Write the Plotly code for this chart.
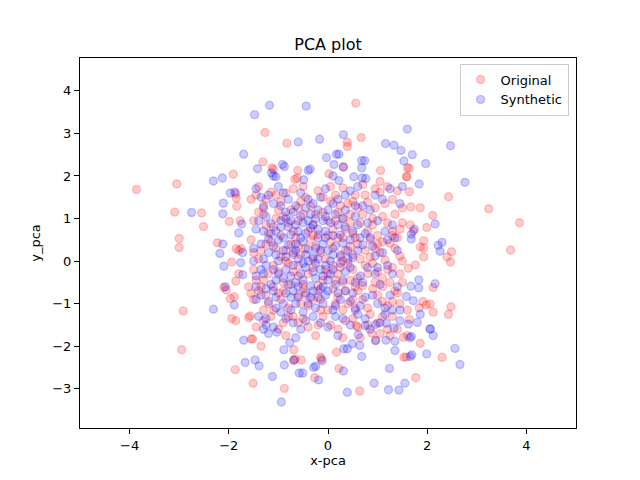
import plotly.graph_objects as go

# ---- data ----
orig_pts = [
    # outer left
    (-3.86,1.68),(-3.05,1.81),(-3.09,1.15),(-2.55,1.13),(-2.51,0.81),(-3.0,0.53),(-3.0,0.32),(-1.91,2.04),
    (-2.92,-1.17),(-2.95,-2.08),(-2.23,0.43),(-1.94,-0.02),(-2.1,-0.62),(-2.05,-0.68),(-1.97,-0.88),(-1.89,-0.84),
    (-1.94,-1.35),(-1.86,-1.4),(-1.55,-1.83),(-1.99,0.93),(-1.84,1.29),(-1.85,1.48),(-1.86,1.58),(-1.77,0.95),
    (-1.85,0.29),(-1.8,0.25),(-1.75,0.29),(-1.8,-0.3),(-1.86,-0.47),(-1.6,-0.6),(-1.55,-0.76),(-1.5,-0.9),(-1.6,-1.33),
    # outer right
    (3.86,0.9),(3.68,0.26),(3.24,1.23),(2.43,1.51),(1.64,2.18),(1.59,1.98),(1.64,1.63),(1.67,1.27),(1.86,1.25),
    (2.11,1.07),(1.99,0.79),(1.66,0.85),(1.72,0.7),(1.93,0.48),(1.86,0.33),(1.93,0.31),(2.49,0.22),(2.4,0.1),
    (2.47,-0.02),(1.93,0.1),(1.76,-0.09),(1.62,-0.17),(2.12,-0.62),(1.6,-1.15),(1.91,-0.95),(1.98,-1.03),(2.06,-1.01),
    (2.48,-1.07),(2.43,-1.25),(2.12,-1.2),(1.84,-1.1),(1.64,-1.37),(1.6,-1.75),(1.86,-1.93),(2.3,-2.26),(1.58,-2.25),
    # bottom
    (-1.57,-1.29),(-1.52,-1.83),(-1.35,-2.0),(-1.87,-2.55),(-1.51,-2.87),(-0.88,-2.99),(-0.69,-2.33),(-0.66,-2.3),
    (-0.54,-2.32),(-0.27,-2.74),(-0.15,-2.26),(-0.13,-2.3),(0.22,-2.52),(0.64,-3.05),(1.77,-2.74),(0.17,-2.14),
    (1.2,-1.6),(1.53,-2.26),(1.52,-1.79),(0.88,-1.69),(0.57,-1.52),(-0.69,-2.08),(0.96,-1.86),
    # top
    (0.56,3.71),(-1.27,3.02),(-0.83,2.77),(0.39,2.79),(0.39,2.69),(0.67,2.9),(1.6,2.19),(1.58,1.98),(1.06,2.13),
    (1.05,1.87),(-1.31,2.33),(-1.13,2.19),(-1.1,2.15),(-0.61,2.13),(-0.67,1.92),(-0.62,1.95),(0.02,2.05),(0.31,2.21),
    # centre
    (-1.4,1.75),(-1.15,1.62),(-0.95,1.4),(-0.7,1.7),(-0.45,1.5),(-0.2,1.65),(0.05,1.4),(0.3,1.72),(0.55,1.55),
    (0.8,1.38),(1.05,1.62),(1.3,1.45),(1.5,1.25),(-1.3,1.3),(0.15,1.55),(0.7,1.8),(-0.6,1.25),(1.2,1.75),(0.95,1.25),(-1.55,1.45),
    (-1.5,0.95),(-1.3,1.1),(-1.1,0.8),(-0.9,1.05),(-0.7,0.7),(-0.5,1.1),(-0.3,0.85),(-0.1,1.15),(0.1,0.75),(0.3,1.0),
    (0.5,0.65),(0.7,1.1),(0.9,0.85),(1.1,1.05),(1.3,0.7),(1.5,0.9),(-1.2,0.65),(0.45,0.9),(1.0,0.6),(-0.8,0.9),(0.2,1.15),(1.35,1.1),(-0.2,0.62),
    (-1.55,0.5),(-1.35,0.25),(-1.15,0.45),(-0.95,0.1),(-0.75,0.4),(-0.55,0.15),(-0.35,0.5),(-0.15,0.2),(0.05,0.45),(0.25,0.1),
    (0.45,0.35),(0.65,0.05),(0.85,0.5),(1.05,0.2),(1.25,0.42),(1.45,0.12),(-1.05,0.3),(0.55,0.55),(-0.45,0.3),(1.15,0.02),(0.35,0.25),(-0.65,0.55),(0.95,0.3),
    (-1.5,-0.2),(-1.3,-0.45),(-1.1,-0.1),(-0.9,-0.5),(-0.7,-0.25),(-0.5,-0.55),(-0.3,-0.15),(-0.1,-0.45),(0.1,-0.1),(0.3,-0.5),
    (0.5,-0.2),(0.7,-0.58),(0.9,-0.05),(1.1,-0.4),(1.3,-0.15),(1.5,-0.5),(-0.8,-0.05),(0.2,-0.3),(0.6,-0.4),(-0.2,-0.58),(1.0,-0.25),(-1.2,-0.3),(0.4,-0.05),
    (-1.4,-0.7),(-1.2,-1.0),(-1.0,-0.75),(-0.8,-1.1),(-0.6,-0.8),(-0.4,-1.05),(-0.2,-0.7),(0.0,-1.15),(0.2,-0.85),(0.4,-1.0),
    (0.6,-0.7),(0.8,-1.1),(1.0,-0.8),(1.2,-1.05),(1.4,-0.75),(-0.5,-0.65),(0.3,-1.15),(0.9,-0.65),(-1.1,-1.15),(1.3,-0.95),(0.1,-0.65),
    (-1.3,-1.4),(-1.0,-1.6),(-0.7,-1.3),(-0.4,-1.55),(-0.1,-1.3),(0.2,-1.6),(0.5,-1.35),(0.8,-1.5),(1.1,-1.3),(1.4,-1.6),
    (-0.25,-1.75),(0.65,-1.8),(1.25,-1.75),(-0.85,-1.75),
    (-1.45,1.55),(-1.0,1.2),(-0.35,1.3),(0.4,1.35),(1.15,1.35),(-1.25,0.85),(-0.6,0.95),(0.15,0.95),(0.8,0.7),(1.4,0.55),
    (-1.4,0.05),(-0.85,0.25),(-0.25,0.35),(0.3,0.55),(0.75,0.25),(1.35,0.3),(-1.35,-0.6),(-0.6,-0.35),(0.0,-0.3),(0.8,-0.3),
    (1.45,-0.3),(-0.95,-0.9),(-0.3,-0.9),(0.5,-0.9),(1.1,-0.6),(-0.6,-1.45),(0.35,-1.4),(1.0,-1.45),(0.05,-1.5),(-1.15,-1.3),
    (-1.25,1.45),(-0.85,1.6),(-0.5,1.75),(-0.1,1.5),(0.25,1.3),(0.6,1.25),(0.95,1.7),(1.4,1.65),
    (-1.4,1.15),(-1.05,1.0),(-0.75,1.2),(-0.4,0.7),(0.0,0.95),(0.35,0.75),(0.65,0.9),(1.2,0.9),(1.45,0.75),
    (-1.25,0.4),(-0.95,0.6),(-0.6,0.35),(-0.3,0.05),(0.1,0.3),(0.2,0.55),(0.5,0.15),(0.85,0.1),(1.1,0.45),(1.3,0.6),
    (-1.45,-0.45),(-1.0,-0.25),(-0.75,-0.55),(-0.4,-0.3),(-0.05,-0.2),(0.25,-0.15),(0.45,-0.45),(0.75,-0.1),(0.95,-0.5),(1.25,-0.5),
    (-1.25,-0.8),(-0.9,-0.7),(-0.55,-1.0),(-0.15,-0.9),(0.15,-1.0),(0.55,-0.6),(0.7,-0.9),(1.1,-0.95),(1.45,-1.0),
    (-1.45,-1.55),(-0.9,-1.45),(-0.5,-1.35),(-0.2,-1.5),(0.3,-1.8),(0.6,-1.55),(1.05,-1.7),(1.3,-1.3),
    (-0.3,0.6),(0.6,0.4),(-0.6,-0.1),(0.35,-0.7),(-0.85,0.0),(0.0,0.6),(0.45,1.1),(-0.15,-1.15),(0.9,1.0),(-1.1,-0.6),
    (-0.25,1.1),(0.75,1.55),(-1.05,1.55),(0.15,-0.45),(-0.45,-0.8),(1.0,0.4),(-0.7,0.15),(0.3,0.0),(-1.5,0.2),(1.5,0.0),
    (-0.05,0.05),(0.55,-1.1),(-0.8,-1.3),(0.85,-1.25),(-1.3,-1.15),(1.2,-0.2),(0.05,1.75),(-0.55,1.4),(0.5,1.4),(1.35,-0.7),
]

synth_pts = [
    # outer left
    (-2.75,1.14),(-2.31,1.88),(-2.31,-1.13),(-2.12,0.40),(-2.18,0.18),(-2.1,-0.12),(-1.89,-1.03),(-1.70,-1.86),
    (-2.11,1.36),(-2.12,1.11),(-1.97,1.6),(-1.88,1.62),(-1.8,0.66),(-1.74,0.87),(-1.76,-0.04),(-1.72,-0.32),(-2.07,-0.6),(-1.72,0.2),
    (-2.13,1.95),
    # outer right
    (2.76,1.85),(1.84,1.81),(2.16,0.87),(1.74,0.75),(1.68,0.63),(1.68,0.52),(2.22,0.37),(2.3,0.44),(2.26,0.23),
    (1.83,-0.44),(1.83,-0.63),(2.16,-0.53),(1.67,-0.59),(1.58,-0.83),(1.72,-0.93),(1.86,-1.25),(1.8,-1.44),(1.62,-1.48),
    (2.06,-1.59),(2.12,-1.75),(1.68,-1.77),(2.56,-2.05),(1.99,-2.18),(1.69,-2.2),(2.47,2.71),(2.66,-2.43),(1.7,2.5),(1.97,2.29),
    # bottom
    (-1.67,-2.38),(-1.47,-2.32),(-1.39,-2.46),(-1.12,-2.71),(-0.94,-3.31),(-0.88,-2.44),(-0.69,-2.33),(-0.58,-2.63),
    (-0.51,-2.63),(-0.29,-2.5),(-0.25,-2.47),(-0.19,-2.79),(-0.12,-2.34),(0.31,-2.58),(0.39,-3.08),(0.93,-2.87),
    (1.22,-3.02),(1.43,-3.03),(1.55,-2.87),(1.24,-2.52),(0.68,-2.24),(0.96,-1.49),(0.96,-1.87),(1.17,-1.86),(1.35,-1.88),
    (1.35,-2.1),(1.66,-2.24),(1.65,-1.8),(2.06,-1.6),(1.33,-1.57),(1.18,-1.46),(0.75,-1.52),(0.61,-1.73),(0.64,-1.98),
    (0.49,-1.94),(0.32,-2.06),(0.39,-2.06),(-0.89,-2.08),(-0.77,-1.92),(-1.03,-1.67),(-1.2,-1.7),(-1.3,-1.6),(-1.25,-1.5),
    # top
    (-1.48,3.44),(-1.18,3.66),(-0.44,3.64),(1.6,3.1),(-0.6,2.8),(-0.17,2.86),(0.31,2.97),(1.16,2.76),(1.33,2.72),
    (1.47,2.6),(1.53,2.35),(-1.7,2.51),(-1.42,2.17),(-1.14,2.07),(-1.1,2.0),(-1.05,1.98),(-0.92,2.27),(-0.88,2.22),
    (-0.4,2.13),(-0.36,2.16),(-0.49,1.91),(-0.03,2.43),(0.17,2.51),(0.22,2.51),(0.12,2.27),(0.31,2.21),(0.1,2.0),
    (0.22,1.89),(0.68,2.36),(0.74,2.36),(0.68,2.19),(0.69,1.95),(0.76,1.94),(0.52,1.98),(1.5,1.75),
    # centre
    (-1.45,1.7),(-1.2,1.55),(-1.0,1.75),(-0.8,1.45),(-0.55,1.6),(-0.3,1.35),(-0.05,1.7),(0.2,1.45),(0.45,1.65),
    (0.7,1.3),(0.95,1.55),(1.25,1.7),(-1.3,1.25),(-0.15,1.5),(0.6,1.75),(-0.65,1.3),(1.45,1.35),
    (-1.45,0.75),(-1.25,1.05),(-1.05,0.7),(-0.85,1.15),(-0.65,0.85),(-0.45,0.65),(-0.25,1.0),(-0.05,0.7),(0.15,1.1),
    (0.35,0.8),(0.55,1.05),(0.75,0.65),(1.0,0.95),(1.3,0.85),(-0.95,0.95),(-0.35,0.78),(0.25,0.62),(-0.75,0.62),
    (0.6,0.85),(-1.15,0.88),(-0.55,1.05),(0.05,0.9),
    (-1.5,0.3),(-1.3,0.05),(-1.1,0.35),(-0.9,0.55),(-0.7,0.2),(-0.5,0.45),(-0.3,0.1),(-0.1,0.4),(0.1,0.15),(0.3,0.42),
    (0.5,0.08),(0.7,0.38),(0.95,0.12),(1.2,0.5),(1.4,0.25),(-0.8,0.38),(-0.2,0.55),(0.4,0.25),(-1.2,0.52),(-0.6,0.05),
    (0.0,0.25),(0.85,0.55),(-0.4,0.28),
    (-1.45,-0.35),(-1.25,-0.1),(-1.05,-0.45),(-0.85,-0.2),(-0.65,-0.5),(-0.45,-0.15),(-0.25,-0.4),(-0.05,-0.1),
    (0.15,-0.55),(0.35,-0.25),(0.55,-0.5),(0.8,-0.15),(1.05,-0.55),(1.3,-0.3),(-0.75,-0.35),(-0.35,-0.58),(0.05,-0.3),
    (-1.15,-0.55),(-0.15,-0.2),(0.25,-0.05),(0.65,-0.35),(-0.55,-0.3),
    (-1.45,-0.9),(-1.25,-0.65),(-1.05,-1.1),(-0.85,-0.75),(-0.65,-1.0),(-0.45,-0.75),(-0.25,-1.1),(-0.05,-0.8),
    (0.15,-1.05),(0.35,-0.7),(0.55,-1.15),(0.75,-0.85),(1.0,-1.0),(1.25,-0.8),(1.45,-1.15),(-0.75,-1.15),(-0.15,-0.65),
    (0.45,-0.95),(-1.2,-0.95),(0.1,-1.15),
    (-1.4,-1.3),(-1.1,-1.55),(-0.85,-1.35),(-0.55,-1.6),(-0.3,-1.3),(0.0,-1.55),(0.3,-1.35),(0.6,-1.25),(0.85,-1.6),
    (1.15,-1.25),(1.45,-1.4),(-0.65,-1.8),(0.2,-1.75),
    (-1.0,0.5),(-0.9,0.25),(-0.6,0.7),(-0.4,0.95),(-1.3,0.7),(-0.7,-0.7),(-0.35,-0.85),(-0.1,-0.6),(-0.2,0.05),
    (-1.0,-0.3),(-1.2,0.2),(-0.95,1.3),(-0.45,1.25),(0.0,1.2),(0.35,1.2),(-0.1,-1.0),(0.2,-0.75),(-0.5,-1.2),
    (-1.35,-0.2),(0.45,0.5),
    (-1.35,1.5),(-1.1,1.35),(-0.9,1.6),(-0.7,1.15),(-0.4,1.45),(-0.2,1.2),(0.1,1.35),(0.35,1.55),(0.55,1.3),(0.85,1.2),(1.1,1.45),
    (-1.4,0.95),(-1.15,0.65),(-0.95,0.8),(-0.75,0.95),(-0.55,0.55),(-0.3,0.85),(-0.1,0.95),(0.1,0.6),(0.3,1.0),(0.5,0.7),(0.8,0.9),(1.15,0.7),
    (-1.35,0.4),(-1.05,0.15),(-0.85,0.1),(-0.65,0.4),(-0.45,0.15),(-0.25,0.3),(-0.05,0.55),(0.15,0.35),(0.25,0.15),(0.6,0.25),(0.9,0.35),(1.1,0.2),
    (-1.3,-0.3),(-1.1,-0.2),(-0.9,-0.4),(-0.7,-0.1),(-0.5,-0.45),(-0.3,-0.25),(-0.1,-0.35),(0.1,-0.2),(0.3,-0.45),(0.45,-0.15),(0.7,-0.5),(0.95,-0.3),(1.2,-0.1),
    (-1.35,-0.8),(-1.1,-0.7),(-0.9,-1.0),(-0.6,-0.85),(-0.4,-1.0),(-0.2,-0.85),(0.0,-0.7),(0.25,-0.9),(0.5,-0.75),(0.65,-1.05),(0.9,-0.8),(1.15,-1.1),
    (-1.25,-1.35),(-0.95,-1.2),(-0.7,-1.45),(-0.45,-1.4),(-0.15,-1.45),(0.15,-1.3),(0.45,-1.5),(0.75,-1.35),(1.05,-1.45),(1.3,-1.15),
    (-0.8,0.8),(-0.5,0.9),(-0.2,0.75),(-0.6,-0.6),(-0.3,-0.7),(-0.8,-0.55),(-1.0,0.0),(-0.4,0.0),(0.05,0.0),(-0.15,0.25),(-0.65,0.25),
    (-0.85,1.0),(-0.35,1.1),(0.2,0.85),(-0.5,-0.05),(-0.25,-0.05),(0.0,-0.45),(-0.75,-0.85),(-1.05,-0.85),(0.4,0.05),(-0.05,1.05),
    (0.65,0.55),(1.35,0.55),(1.4,-0.6),(1.0,-0.15),(-1.5,0.0),(-1.45,-0.6),
]

orig_x = [p[0] for p in orig_pts]
orig_y = [p[1] for p in orig_pts]
synth_x = [p[0] for p in synth_pts]
synth_y = [p[1] for p in synth_pts]

x_ticks = [-4, -2, 0, 2, 4]
y_ticks = [-3, -2, -1, 0, 1, 2, 3, 4]


def tick_text(vals):
    return [f"\u2212{abs(v)}" if v < 0 else str(v) for v in vals]


fig = go.Figure()
fig.add_trace(go.Scatter(
    x=orig_x, y=orig_y, mode="markers", name="Original",
    marker=dict(size=8, color="rgba(255,0,0,0.2)", line=dict(width=1.4, color="rgba(255,0,0,0.2)")),
))
fig.add_trace(go.Scatter(
    x=synth_x, y=synth_y, mode="markers", name="Synthetic",
    marker=dict(size=8, color="rgba(0,0,255,0.2)", line=dict(width=1.4, color="rgba(0,0,255,0.2)")),
))

axis_common = dict(
    showgrid=False, zeroline=False, showline=True, linecolor="black", linewidth=1,
    mirror=True, ticks="outside", ticklen=5, tickwidth=1, tickcolor="black",
    tickfont=dict(size=13, color="black"),
)
fig.update_xaxes(range=[-5, 5], tickvals=x_ticks, ticktext=tick_text(x_ticks),
                 title=dict(text="x-pca", font=dict(size=13, color="black"), standoff=4), **axis_common)
fig.update_yaxes(range=[-3.92, 4.77], tickvals=y_ticks, ticktext=tick_text(y_ticks),
                 title=dict(text="y_pca", font=dict(size=13, color="black"), standoff=8), **axis_common)

# the page adds an 8px body margin, so the margins are shifted by 8px
fig.update_layout(
    width=640, height=480,
    margin=dict(l=72, r=72, t=50, b=60),
    paper_bgcolor="white", plot_bgcolor="white",
    font=dict(family="DejaVu Sans", color="black"),
    title=dict(text="PCA plot", x=0.5, xanchor="center", y=0.925, yanchor="middle",
               font=dict(size=16, color="black")),
    legend=dict(x=0.985, y=0.985, xanchor="right", yanchor="top",
                bgcolor="rgba(255,255,255,0.8)", bordercolor="#cccccc", borderwidth=1,
                font=dict(size=13, color="black")),
    showlegend=True,
)

fig.write_html("out.html")
